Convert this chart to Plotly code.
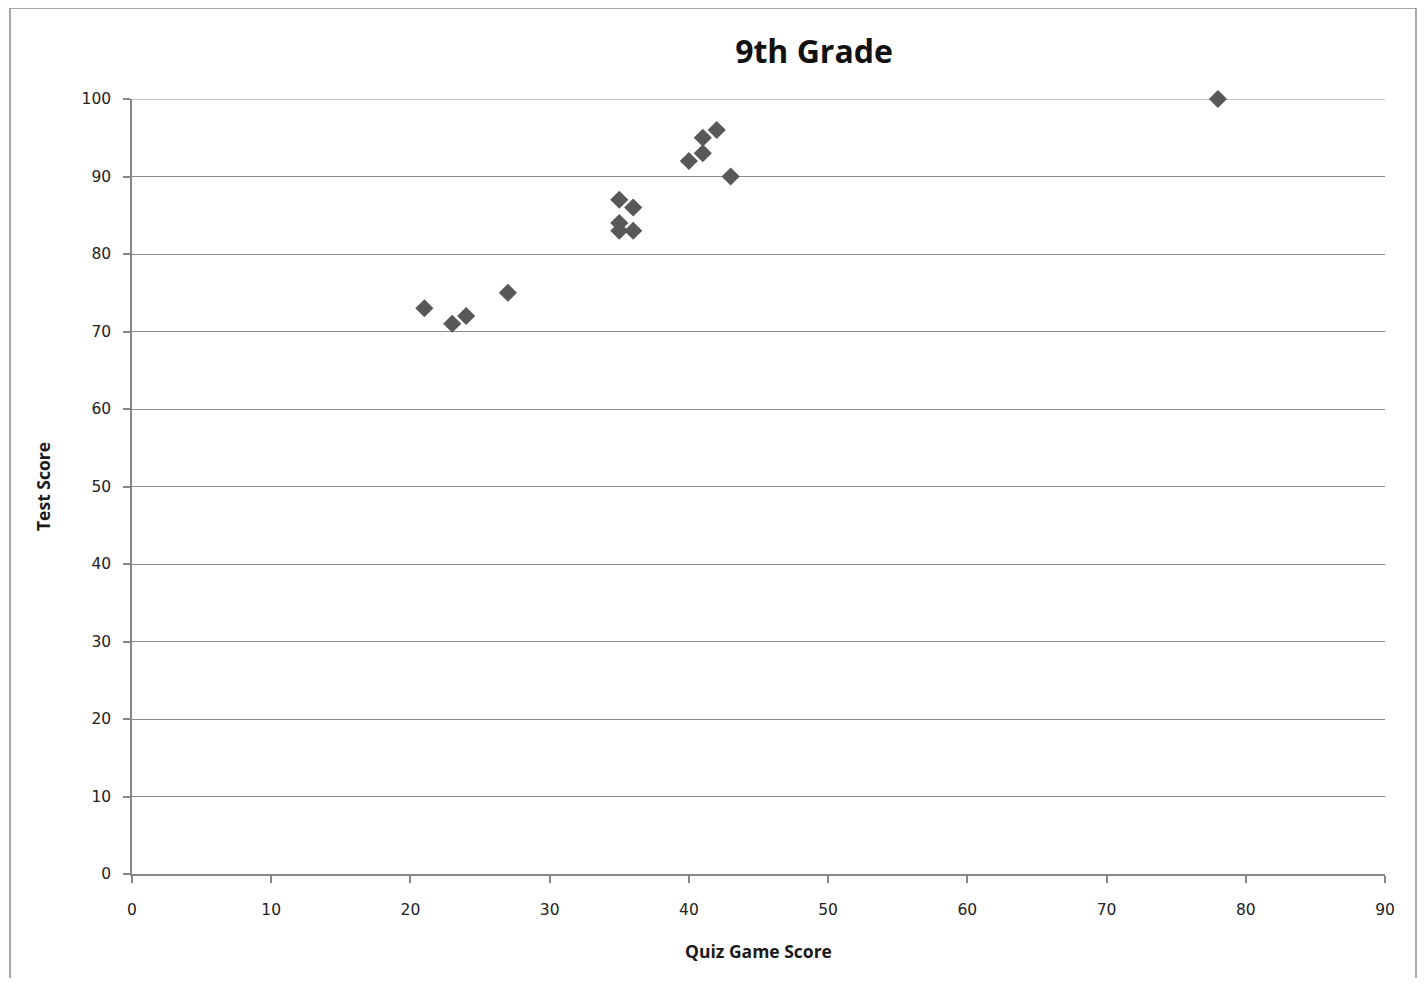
import plotly.graph_objects as go

quiz_scores = [21, 23, 24, 27, 35, 35, 35, 36, 36, 40, 41, 41, 42, 43, 78]
test_scores = [73, 71, 72, 75, 87, 84, 83, 86, 83, 92, 95, 93, 96, 90, 100]
x_ticks = list(range(0, 91, 10))
y_ticks = list(range(0, 101, 10))

# page body has an 8px margin, so figure coordinates are page coordinates minus 8
OFF = 8
W, H = 1425 - 2 * OFF, 986 - 2 * OFF
L = 132 - OFF
T = 99 - OFF
R = W - (1385 - OFF)
B = H - (874 - OFF)
pw, ph = W - L - R, H - T - B

def px(x):
    return (x - OFF - L) / pw

def py(y):
    return (H - B - (y - OFF)) / ph

fig = go.Figure()
fig.add_trace(go.Scatter(
    x=quiz_scores, y=test_scores, mode="markers",
    marker=dict(symbol="diamond", size=14, color="#585858", line=dict(width=0)),
    showlegend=False, cliponaxis=False,
))

tick_font = dict(family="DejaVu Sans, sans-serif", size=15.5, color="#222222")
title_font = dict(family="Open Sans, sans-serif", size=17.5, color="#1a1a1a")
fig.update_layout(
    width=W, height=H,
    margin=dict(l=L, r=R, t=T, b=B),
    paper_bgcolor="white", plot_bgcolor="white",
    title=dict(text="<b>9th Grade</b>", x=px(814), xanchor="center", xref="paper",
               y=1 - (52 - OFF) / H, yanchor="middle",
               font=dict(family="Open Sans, sans-serif", size=32, color="#111111")),
    xaxis=dict(range=[0, 90], tickvals=x_ticks, ticktext=[str(v) for v in x_ticks],
               showgrid=False, zeroline=False, showline=True, linecolor="#868686", linewidth=1.5,
               ticks="outside", ticklen=7, tickcolor="#868686", tickwidth=1.5,
               tickfont=tick_font, ticklabelstandoff=14,
               title=dict(text="<b>Quiz Game Score</b>", standoff=27, font=title_font)),
    yaxis=dict(range=[0, 100], tickvals=y_ticks, ticktext=[str(v) for v in y_ticks],
               showgrid=True, gridcolor="#8c8c8c", gridwidth=1.2,
               zeroline=False, showline=True, linecolor="#868686", linewidth=1.5,
               ticks="outside", ticklen=7, tickcolor="#868686", tickwidth=1.5,
               tickfont=tick_font, ticklabelstandoff=9,
               title=dict(text="<b>Test Score</b>", standoff=26, font=title_font)),
)

# top gridline at 100
fig.add_shape(type="line", xref="paper", yref="y", x0=0, x1=1, y0=100, y1=100,
              line=dict(color="#8c8c8c", width=1.2), layer="below")

# outer chart border
fig.add_shape(type="rect", xref="paper", yref="paper",
              x0=px(10), x1=px(1416), y0=py(1000), y1=py(8),
              line=dict(color="#8a8a8a", width=1.5), fillcolor="rgba(0,0,0,0)", layer="below")

fig.write_html("out.html")
